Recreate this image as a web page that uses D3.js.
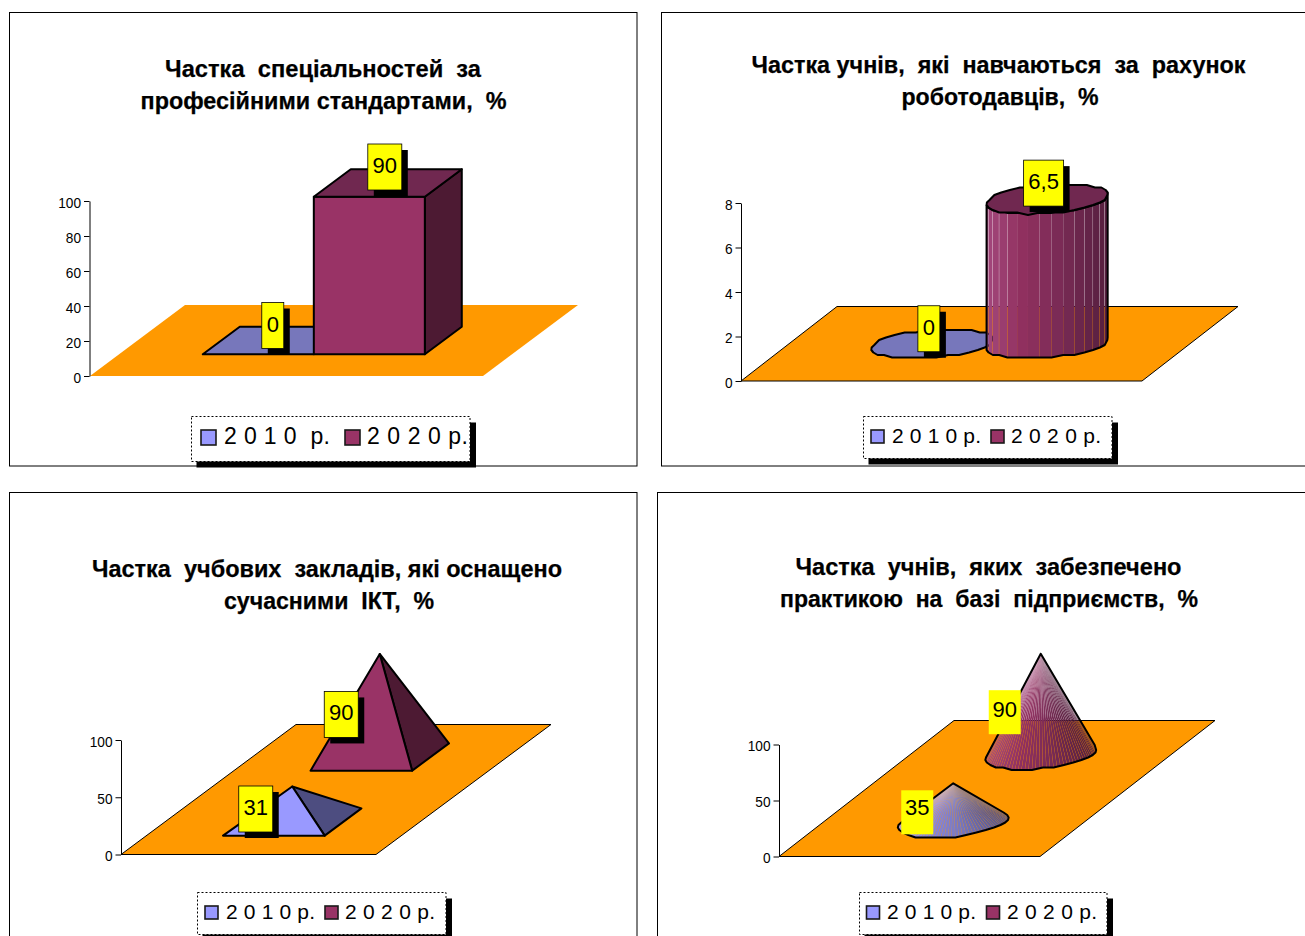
<!DOCTYPE html>
<html>
<head>
<meta charset="utf-8">
<script src="https://cdn.jsdelivr.net/npm/d3@7"></script>
<style>
  html, body { margin: 0; padding: 0; background: #fff; }
  text { font-family: "Liberation Sans", Arial, sans-serif; fill: #000; white-space: pre; }
</style>
</head>
<body>
<div id="graph"></div>
<script>
const WIDTH = 1305;
const HEIGHT = 936;

// chart values
const seriesNames = ["2010", "2020"];
const legendLabelsWide = ["2 0 1 0  р.", "2 0 2 0 р."];
const legendLabels = ["2 0 1 0 р.", "2 0 2 0 р."];

const standardsShare = [0, 90];
const employersShare = [0, 6.5];
const ictShare = [31, 90];
const practiceShare = [35, 90];

const standardsTicks = [0, 20, 40, 60, 80, 100];
const employersTicks = [0, 2, 4, 6, 8];
const ictTicks = [0, 50, 100];
const practiceTicks = [0, 50, 100];

const standardsTitle = ["Частка  спеціальностей  за", "професійними стандартами,  %"];
const employersTitle = ["Частка учнів,  які  навчаються  за  рахунок", "роботодавців,  %"];
const ictTitle = ["Частка  учбових  закладів, які оснащено", "сучасними  ІКТ,  %"];
const practiceTitle = ["Частка  учнів,  яких  забезпечено", "практикою  на  базі  підприємств,  %"];

const colors = {
    floor: "#ff9900",
    label: "#ffff00",
    front: ["#9999ff", "#993366"],
    top: ["#7777bb", "#702850"],
    side: ["#4d4d80", "#4d1a33"],
    wallStops: [
        ["#a0a0ff", "#8484d8", "#7a7ac4", "#565690"],
        ["#a3487c", "#90305f", "#7e2c58", "#56203f"]
    ]
};

// layout of each panel, nothing here is data
let panels = [
    {
        shape: "box", values: standardsShare, ticks: standardsTicks, title: standardsTitle,
        legendText: legendLabelsWide, yMax: 100, mode: "side",
        frame: [9.5, 12.5, 627.5, 453.5], floor: { x: 90, y: 376, w: 393, dx: 95, dy: 71, stroke: false },
        yTop: 201, axisX: 89.5, padU: 0.77, alignU: 0.49, padD: 0.44,
        titleCx: [323, 323.5], titleY: [77, 109], titleW: [316, 366],
        labelOff: [[-4, -15], [-3, -16]], labelW: [22, 34], labelH: 46, labelBorder: true, labelTextDy: [0, 0],
        legend: { x: 191.5, y: 416.5, w: 278.5, h: 45, swatch: [201, 345], text: [224, 367], textW: [106, 101], size: 23, sw: 15, swY: 430, textY: 444 }
    },
    {
        shape: "cylinder", values: employersShare, ticks: employersTicks, title: employersTitle,
        legendText: legendLabels, yMax: 8, mode: "side",
        frame: [661.5, 12.5, 660, 453.5], floor: { x: 741, y: 381, w: 401, dx: 96, dy: 74.5, stroke: true },
        yTop: 203, axisX: 741, padU: 0.74, alignU: 0.5, padD: 0.43,
        titleCx: [998.5, 1000], titleY: [73, 105], titleW: [494, 197],
        labelOff: [[-3, -15], [-3.5, -16]], labelW: [22, 40], labelH: 46, labelBorder: true, labelTextDy: [0, 0],
        legend: { x: 863.5, y: 416.5, w: 248.5, h: 42, swatch: [871, 991], text: [892, 1011], textW: [89, 90], size: 21, sw: 13, swY: 430, textY: 443 }
    },
    {
        shape: "pyramid", values: ictShare, ticks: ictTicks, title: ictTitle,
        legendText: legendLabels, yMax: 100, mode: "depth",
        frame: [9.5, 492.5, 627.5, 460], floor: { x: 121, y: 854.5, w: 255, dx: 175, dy: 130, stroke: true },
        yTop: 740, axisX: 121, padU: 0.43, alignU: 0.5, padD: 0.58,
        titleCx: [327, 329], titleY: [577, 609], titleW: [470, 210],
        labelOff: [[-36.5, 22.5], [-38.5, 60.5]], labelW: [34, 34], labelH: 46, labelBorder: true, labelTextDy: [0, 0],
        legend: { x: 197.5, y: 892.5, w: 248.5, h: 42, swatch: [205, 325], text: [226, 345], textW: [89, 90], size: 21, sw: 13, swY: 906, textY: 919 }
    },
    {
        shape: "cone", values: practiceShare, ticks: practiceTicks, title: practiceTitle,
        legendText: legendLabels, yMax: 100, mode: "depth",
        frame: [657.5, 492.5, 660, 460], floor: { x: 779, y: 856.5, w: 261, dx: 175, dy: 136, stroke: true },
        yTop: 744.5, axisX: 779, padU: 0.43, alignU: 0.5, padD: 0.56,
        titleCx: [988.5, 989], titleY: [575, 607], titleW: [386, 418],
        labelOff: [[-36, 29], [-36, 58.5]], labelW: [32, 32], labelH: 44, labelBorder: false, labelTextDy: [-3, -1],
        legend: { x: 859.5, y: 892.5, w: 247.5, h: 42, swatch: [866.5, 986.5], text: [887, 1007], textW: [89, 90], size: 21, sw: 13, swY: 906, textY: 919 }
    }
];

let svg = d3.select("#graph")
    .append("svg")
    .attr("width", WIDTH)
    .attr("height", HEIGHT)
    .style("display", "block");

let grad = svg.append("defs").append("linearGradient")
    .attr("id", "coneFade")
    .attr("x1", 0).attr("y1", 0).attr("x2", 0).attr("y2", 1);
grad.append("stop").attr("offset", "0%").attr("stop-color", "#fff").attr("stop-opacity", 0.24);
grad.append("stop").attr("offset", "55%").attr("stop-color", "#fff").attr("stop-opacity", 0);

let line = d3.line();

// the picture's outlines step from pixel to pixel, so the round shapes do too
function wobble(pts) {
    return pts.map(function(p) { return [p[0], Math.round(p[1] / 2.5) * 2.5]; });
}

function poly(g, pts, fill, strokeW) {
    return g.append("path")
        .attr("d", line(pts) + "Z")
        .attr("fill", fill)
        .attr("stroke", strokeW ? "#000" : "none")
        .attr("stroke-width", strokeW || 0)
        .attr("stroke-linejoin", "round");
}

function drawPanel(p) {
    let g = svg.append("g");

    g.append("rect")
        .attr("x", p.frame[0]).attr("y", p.frame[1])
        .attr("width", p.frame[2]).attr("height", p.frame[3])
        .attr("fill", "#fff").attr("stroke", "#000");

    let y = d3.scaleLinear().domain([0, p.yMax]).range([p.floor.y, p.yTop]);

    // bars stand side by side on the floor, or one behind the other
    let side = p.mode === "side";
    let u = d3.scaleBand().domain(side ? seriesNames : ["all"]).range([0, p.floor.w]);
    let d = d3.scaleBand().domain(side ? ["all"] : seriesNames).range([0, 1]);
    if (side) {
        u.paddingInner(0).paddingOuter(p.padU).align(p.alignU);
        d.padding(p.padD);
    } else {
        u.padding(p.padU);
        d.paddingInner(p.padD).paddingOuter(p.padD / 2);
    }

    function project(uPx, depth, value) {
        return [p.floor.x + uPx + depth * p.floor.dx, y(value) - depth * p.floor.dy];
    }
    function slot(name) {
        return {
            u0: u(side ? name : "all"), uw: u.bandwidth(),
            d0: d(side ? "all" : name), dw: d.bandwidth()
        };
    }

    poly(g, [project(0, 0, 0), project(p.floor.w, 0, 0), project(p.floor.w, 1, 0), project(0, 1, 0)], colors.floor)
        .attr("stroke", p.floor.stroke ? "#000" : "none")
        .attr("stroke-width", 1);

    g.append("g")
        .attr("transform", `translate(${p.axisX}, 0)`)
        .call(d3.axisLeft(y).tickValues(p.ticks).tickSize(5.5).tickSizeOuter(0).tickPadding(3))
        .call(function(a) {
            a.selectAll("text")
                .style("font-family", "\"Liberation Sans\", Arial, sans-serif")
                .style("font-size", "15px")
                .attr("dy", "0.4em")
                .attr("textLength", function(t) { return String(t).length * 7.6; })
                .attr("lengthAdjust", "spacingAndGlyphs");
            a.selectAll("line, path").attr("stroke", "#000");
        });

    // the farther series first, so the nearer one covers it
    let order = d3.range(seriesNames.length);
    if (!side) order.reverse();

    let tops = [];
    order.forEach(function(i) {
        let s = slot(seriesNames[i]);
        let v = p.values[i];
        if (p.shape === "box") tops[i] = drawBox(g, project, s, v, i);
        if (p.shape === "cylinder") tops[i] = drawCylinder(g, project, s, v, i);
        if (p.shape === "pyramid") tops[i] = drawPyramid(g, project, s, v, i);
        if (p.shape === "cone") tops[i] = drawCone(g, project, s, v, i);
    });

    p.values.forEach(function(v, i) {
        drawLabel(g, p, tops[i], v, i);
    });

    p.title.forEach(function(t, i) {
        g.append("text")
            .attr("x", p.titleCx[i])
            .attr("y", p.titleY[i])
            .attr("text-anchor", "middle")
            .attr("font-weight", 700)
            .attr("font-size", 23)
            .attr("stroke", "#000")
            .attr("stroke-width", 0.25)
            .attr("textLength", p.titleW[i])
            .attr("lengthAdjust", "spacingAndGlyphs")
            .text(t);
    });

    drawLegend(g, p);
}

function drawBox(g, project, s, v, i) {
    let fl0 = project(s.u0, s.d0, 0), fr0 = project(s.u0 + s.uw, s.d0, 0);
    let br0 = project(s.u0 + s.uw, s.d0 + s.dw, 0);
    let fl = project(s.u0, s.d0, v), fr = project(s.u0 + s.uw, s.d0, v);
    let br = project(s.u0 + s.uw, s.d0 + s.dw, v), bl = project(s.u0, s.d0 + s.dw, v);
    if (v > 0) {
        poly(g, [fr0, br0, br, fr], colors.side[i], 2);
        poly(g, [fl0, fr0, fr, fl], colors.front[i], 2);
    }
    poly(g, [fl, fr, br, bl], colors.top[i], 2);
    return project(s.u0 + s.uw / 2, s.d0 + s.dw / 2, v);
}

function drawPyramid(g, project, s, v, i) {
    let fl = project(s.u0, s.d0, 0), fr = project(s.u0 + s.uw, s.d0, 0);
    let br = project(s.u0 + s.uw, s.d0 + s.dw, 0);
    let apex = project(s.u0 + s.uw / 2, s.d0 + s.dw / 2, v);
    poly(g, [fr, br, apex], colors.side[i], 2);
    poly(g, [fl, fr, apex], colors.front[i], 2);
    return apex;
}

function ring(project, s, v, n) {
    return d3.range(n).map(function(k) {
        let a = k / n * 2 * Math.PI;
        return project(s.u0 + s.uw / 2 + s.uw / 2 * Math.cos(a), s.d0 + s.dw / 2 + s.dw / 2 * Math.sin(a), v);
    });
}

// front half of a ring, from its left end to its right end
function frontArc(pts) {
    let left = d3.scan(pts, function(a, b) { return a[0] - b[0]; });
    let right = d3.scan(pts, function(a, b) { return b[0] - a[0]; });
    let arc = [], k = left;
    let step = pts[(left + 1) % pts.length][1] > pts[(left + pts.length - 1) % pts.length][1] ? 1 : -1;
    while (k !== right) {
        arc.push(pts[k]);
        k = (k + step + pts.length) % pts.length;
    }
    arc.push(pts[right]);
    return arc;
}

function wallColor(i) {
    return d3.scaleLinear()
        .domain([0, 0.3, 0.55, 1])
        .range(colors.wallStops[i])
        .interpolate(d3.interpolateRgb);
}

// split each rim segment so there are more colour strips than rim corners
function subdivide(arc, parts) {
    let out = [];
    d3.range(arc.length - 1).forEach(function(k) {
        d3.range(parts).forEach(function(j) {
            let f = j / parts;
            out.push([arc[k][0] + (arc[k + 1][0] - arc[k][0]) * f, arc[k][1] + (arc[k + 1][1] - arc[k][1]) * f]);
        });
    });
    out.push(arc[arc.length - 1]);
    return out;
}

function drawCylinder(g, project, s, v, i) {
    let n = 32;
    let base = ring(project, s, 0, n);
    let top = ring(project, s, v, n);
    if (v <= 0) {
        poly(g, wobble(base), colors.top[i], 2);
        return project(s.u0 + s.uw / 2, s.d0 + s.dw / 2, v);
    }
    let arc = wobble(frontArc(base));
    let h = base[0][1] - top[0][1];
    let x0 = arc[0][0], x1 = arc[arc.length - 1][0];
    let color = wallColor(i);
    let topArc = arc.map(function(q) { return [q[0], q[1] - h]; });

    d3.range(arc.length - 1).forEach(function(k) {
        let t0 = (arc[k][0] - x0) / (x1 - x0), t1 = (arc[k + 1][0] - x0) / (x1 - x0);
        // narrow slits between the outer strips let the background through
        let gap = (t1 < 0.2 || t0 > 0.58) ? 0.3 : 0;
        let a = arc[k], b = [arc[k + 1][0] - gap, arc[k + 1][1]];
        poly(g, [a, b, [b[0], b[1] - h], [a[0], a[1] - h]], color((t0 + t1) / 2));
    });
    g.append("path")
        .attr("d", line(topArc.concat(arc.slice().reverse())) + "Z")
        .attr("fill", "none").attr("stroke", "#000").attr("stroke-width", 2).attr("stroke-linejoin", "round");
    poly(g, wobble(top), colors.top[i], 2);
    return project(s.u0 + s.uw / 2, s.d0 + s.dw / 2, v);
}

function drawCone(g, project, s, v, i) {
    let n = 32;
    let base = ring(project, s, 0, n);
    let apex = project(s.u0 + s.uw / 2, s.d0 + s.dw / 2, v);
    let hull = d3.polygonHull(base.concat([apex]));
    let a = hull.findIndex(function(q) { return q[0] === apex[0] && q[1] === apex[1]; });
    let rim = hull.slice(a + 1).concat(hull.slice(0, a));
    if (rim[0][0] > rim[rim.length - 1][0]) rim.reverse();
    let corners = wobble(rim);
    let arc = subdivide(corners, 3);
    let x0 = arc[0][0], x1 = arc[arc.length - 1][0];
    let color = wallColor(i);
    d3.range(arc.length - 1).forEach(function(k) {
        let t = ((arc[k][0] + arc[k + 1][0]) / 2 - x0) / (x1 - x0);
        let q = [arc[k + 1][0] - 0.25, arc[k + 1][1]];
        poly(g, [apex, arc[k], q], color(t));
    });
    poly(g, [apex].concat(corners), "url(#coneFade)", 2);
    return apex;
}

function drawLabel(g, p, anchor, value, i) {
    let w = p.labelW[i], h = p.labelH;
    let cx = anchor[0] + p.labelOff[i][0];
    let cy = anchor[1] + p.labelOff[i][1];
    if (p.labelBorder) {
        g.append("rect")
            .attr("x", cx - w / 2 + 6).attr("y", cy - h / 2 + 6)
            .attr("width", w).attr("height", h)
            .attr("fill", "#000");
    }
    g.append("rect")
        .attr("x", cx - w / 2).attr("y", cy - h / 2)
        .attr("width", w).attr("height", h)
        .attr("fill", colors.label)
        .attr("stroke", p.labelBorder ? "#000" : "none")
        .attr("stroke-width", 0.8);
    g.append("text")
        .attr("x", cx).attr("y", cy + 6 + p.labelTextDy[i])
        .attr("text-anchor", "middle")
        .attr("font-size", 22)
        .text(String(value).replace(".", ","));
}

function drawLegend(g, p) {
    let l = p.legend;
    g.append("rect")
        .attr("x", l.x + 5).attr("y", l.y + 6)
        .attr("width", l.w + 1).attr("height", l.h)
        .attr("fill", "#000");
    g.append("rect")
        .attr("x", l.x).attr("y", l.y)
        .attr("width", l.w).attr("height", l.h)
        .attr("fill", "#fff")
        .attr("stroke", "#000")
        .attr("stroke-dasharray", "2 2");
    p.legendText.forEach(function(t, i) {
        g.append("rect")
            .attr("x", l.swatch[i]).attr("y", l.swY)
            .attr("width", l.sw).attr("height", l.sw)
            .attr("fill", colors.front[i])
            .attr("stroke", "#1a1a1a")
            .attr("stroke-width", 1.6);
        g.append("text")
            .attr("x", l.text[i]).attr("y", l.textY)
            .attr("font-size", l.size)
            .attr("textLength", l.textW[i])
            .attr("lengthAdjust", "spacing")
            .text(t);
    });
}

panels.forEach(drawPanel);
</script>
</body>
</html>
